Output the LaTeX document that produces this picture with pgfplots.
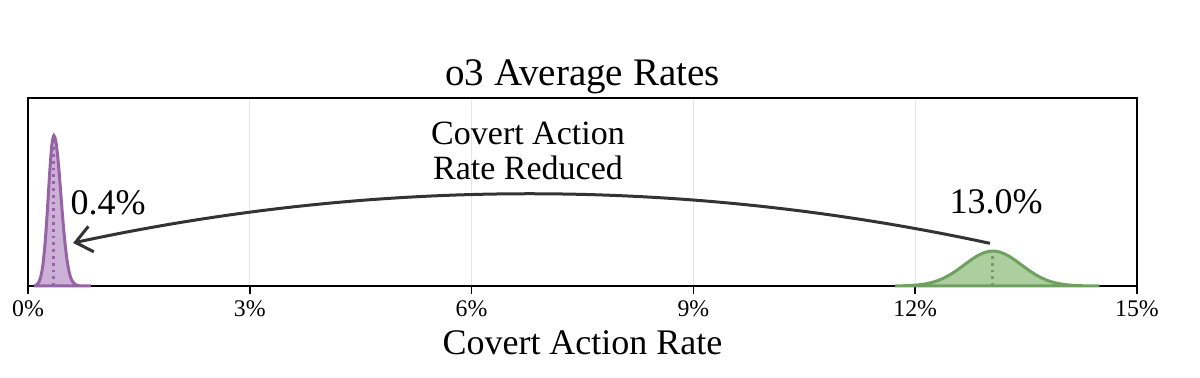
\documentclass[border=0pt]{standalone}
\usepackage{fontspec}
\setmainfont{Liberation Serif}
\usepackage{pgfplots}
\pgfplotsset{compat=1.18}
\usetikzlibrary{calc,arrows.meta}
\definecolor{purp}{HTML}{9664A5}
\definecolor{purpfill}{HTML}{CDB0D8}
\definecolor{grn}{HTML}{6EA05F}
\definecolor{grnfill}{HTML}{ADCF9F}
\definecolor{arr}{HTML}{333333}
\begin{document}
\begin{tikzpicture}
\begin{axis}[
  name=ax,
  scale only axis,
  width=554.5pt, height=94pt,
  xmin=0, xmax=15, ymin=0, ymax=1,
  ytick=\empty,
  xtick={0,3,6,9,12,15},
  xticklabels={0\%,3\%,6\%,9\%,12\%,15\%},
  tick align=outside,
  major tick length=4pt,
  xtick pos=lower,
  xmajorgrids,
  grid style={black!10, line width=0.6pt},
  axis line style={line width=0.8pt},
  every tick/.style={black, line width=0.8pt},
  /pgf/number format/assume math mode=true,
  xticklabel style={font=\fontsize{11.9}{14}\selectfont},
  title={o3 Average Rates},
  title style={at={(axis description cs:0.5,1)}, anchor=base, yshift=0pt, font=\fontsize{19.5}{23}\selectfont},
  xlabel={Covert Action Rate},
  xlabel style={at={(axis description cs:0.5,0)}, anchor=base, yshift=-34.5pt, font=\fontsize{18}{22}\selectfont},
  clip=false,
]
% purple distribution (o3 after)
\addplot[purp, line width=1.5pt, fill=purpfill, smooth] coordinates {
(0.10,0.003) (0.125,0.009) (0.15,0.023) (0.175,0.053) (0.20,0.108) (0.225,0.200)
(0.25,0.329) (0.275,0.485) (0.30,0.641) (0.325,0.757) (0.35,0.800) (0.375,0.773)
(0.40,0.697) (0.425,0.586) (0.45,0.460) (0.475,0.336) (0.50,0.230) (0.525,0.147)
(0.55,0.087) (0.575,0.048) (0.60,0.025) (0.65,0.0055) (0.70,0.001) (0.75,0.0002) (0.85,0)
} \closedcycle;
\addplot[purp, line width=1.4pt, dotted] coordinates {(0.35,0) (0.35,0.78)};
% green distribution (o3 before)
\addplot[grn, line width=1.5pt, fill=grnfill, smooth] coordinates {
(11.75,0.0006) (11.85,0.0014) (11.95,0.0031) (12.05,0.0064) (12.15,0.0121) (12.25,0.0215)
(12.35,0.0356) (12.45,0.0552) (12.55,0.0800) (12.65,0.1084) (12.75,0.1373) (12.85,0.1625)
(12.95,0.1798) (13.05,0.1860) (13.15,0.1798) (13.25,0.1625) (13.35,0.1373) (13.45,0.1084)
(13.55,0.0800) (13.65,0.0552) (13.75,0.0356) (13.85,0.0215) (13.95,0.0121) (14.05,0.0064)
(14.15,0.0031) (14.25,0.0014) (14.35,0.0006) (14.45,0.0002) (14.49,0)
} \closedcycle;
\addplot[grn!90!gray, line width=1.4pt, dotted] coordinates {(13.05,0) (13.05,0.18)};
% arrow and annotations
\draw[arr, line width=1.5pt, -{Straight Barb[length=8pt,width=13pt,line width=1.5pt]}]
  (axis cs:13.01,0.227) .. controls (axis cs:8.877,0.577) and (axis cs:4.743,0.578) .. (axis cs:0.61,0.229);
\node[anchor=base, font=\fontsize{17}{20}\selectfont, inner sep=0] at (axis cs:6.763,0.75) {Covert Action};
\node[anchor=base, font=\fontsize{17}{20}\selectfont, inner sep=0] at (axis cs:6.763,0.564) {Rate Reduced};
\node[anchor=base, font=\fontsize{18}{22}\selectfont, inner sep=0] at (axis cs:1.082,0.378) {0.4\%};
\node[anchor=base, font=\fontsize{18}{22}\selectfont, inner sep=0] at (axis cs:13.096,0.383) {13.0\%};
\end{axis}
\pgfresetboundingbox
\path[use as bounding box] ($(ax.south west)+(-14pt,-46pt)$) rectangle ($(ax.north east)+(31.5pt,49pt)$);
\end{tikzpicture}
\end{document}
